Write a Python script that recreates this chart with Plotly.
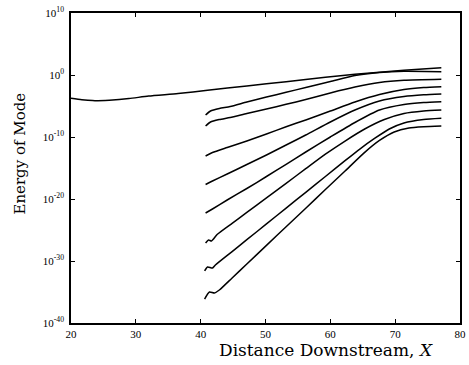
import plotly.graph_objects as go

# ---- data (x = distance downstream, values = log10 of mode energy) ----
x_main = [20, 21.67, 23.33, 25.91, 28.94, 31.97, 36.52, 41.06, 47.12, 53.18, 59.24, 63.79, 71.36, 77.12]
log_main = [-3.76, -4.0, -4.13, -4.06, -3.81, -3.39, -3.0, -2.47, -1.77, -1.08, -0.37, 0.13, 0.77, 1.18]

x_m12 = [40.76, 41.52, 42.88, 44.55, 47.12, 50.15, 53.18, 56.21, 60.0, 63.79, 67.58, 71.36, 77.12]
log_m1 = [-6.45, -5.81, -5.40, -5.08, -4.35, -3.55, -2.79, -2.02, -1.05, -0.08, 0.40, 0.60, 0.53]
log_m2 = [-8.23, -7.58, -7.18, -6.85, -6.21, -5.48, -4.73, -3.95, -2.90, -1.94, -1.21, -0.85, -0.69]

x_m345 = [40.76, 41.82, 44.09, 47.12, 50.15, 53.18, 56.21, 60.0, 63.79, 67.58, 71.36, 74.39, 77.12]
log_m3 = [-13.06, -12.5, -11.69, -10.65, -9.52, -8.34, -7.26, -5.81, -4.35, -3.15, -2.34, -2.02, -1.89]
log_m4 = [-17.66, -17.1, -15.97, -14.44, -12.9, -11.29, -9.68, -7.58, -5.65, -4.19, -3.47, -3.19, -3.06]
log_m5 = [-22.26, -21.61, -20.16, -18.31, -16.37, -14.4, -12.42, -10.0, -7.66, -5.65, -4.76, -4.44, -4.31]

x_m6 = [40.76, 41.21, 41.67, 42.58, 44.85, 47.12, 50.15, 53.18, 56.21, 59.24, 62.27, 65.30, 68.33, 71.36, 74.39, 77.12]
log_m6 = [-27.1, -26.61, -26.77, -25.69, -23.92, -22.16, -19.82, -17.47, -15.11, -12.77, -10.65, -8.71, -7.18, -6.21, -5.81, -5.65]

x_m7 = [40.61, 41.06, 41.82, 42.27, 44.85, 47.12, 50.15, 53.18, 56.21, 59.24, 62.27, 64.55, 66.82, 69.09, 71.36, 74.39, 77.12]
log_m7 = [-31.61, -30.97, -31.13, -30.65, -28.48, -26.56, -24.02, -21.47, -18.92, -16.37, -13.82, -11.94, -10.24, -8.71, -7.74, -7.18, -6.98]

x_m8 = [40.61, 41.36, 42.12, 42.88, 44.85, 47.12, 50.15, 53.18, 56.21, 59.24, 62.27, 65.30, 67.58, 69.85, 72.12, 74.39, 77.12]
log_m8 = [-36.13, -35.0, -35.16, -34.68, -32.73, -30.48, -27.48, -24.48, -21.48, -18.48, -15.48, -12.48, -10.56, -9.19, -8.55, -8.35, -8.23]

x_ticks = [20, 30, 40, 50, 60, 70, 80]
y_exponents = [10, 0, -10, -20, -30, -40]

curves = [
    (x_main, log_main), (x_m12, log_m1), (x_m12, log_m2),
    (x_m345, log_m3), (x_m345, log_m4), (x_m345, log_m5),
    (x_m6, log_m6), (x_m7, log_m7), (x_m8, log_m8),
]

fig = go.Figure()
for xs, ls in curves:
    fig.add_trace(go.Scatter(
        x=xs, y=[10.0 ** v for v in ls], mode="lines",
        line=dict(color="black", width=1.5, shape="spline", smoothing=0.6),
        showlegend=False, hoverinfo="skip"))

serif = "Liberation Serif, Times New Roman, serif"
title_font = "DejaVu Serif, serif"
axis_common = dict(
    showline=True, linecolor="black", linewidth=1.5, mirror="ticks",
    ticks="inside", ticklen=4, tickwidth=1, tickcolor="black",
    showgrid=False, zeroline=False,
    tickfont=dict(family=serif, size=11, color="black"),
)

fig.update_layout(
    width=469, height=365,
    margin=dict(l=71, r=3, t=13, b=42),
    paper_bgcolor="white", plot_bgcolor="white",
    xaxis=dict(range=[20, 80], tickvals=x_ticks, ticktext=[str(v) for v in x_ticks],
               ticklabeloverflow="allow", **axis_common),
    yaxis=dict(type="log", range=[-40, 10],
               tickvals=[10.0 ** e for e in y_exponents],
               ticktext=["10<sup>%d</sup>" % e for e in y_exponents],
               ticklabelstandoff=3,
               **axis_common),
    annotations=[
        dict(text="Distance Downstream, <i>X</i>", xref="paper", yref="paper",
             x=0.655, y=-0.087, xanchor="center", yanchor="middle", showarrow=False,
             font=dict(family=title_font, size=17, color="black")),
        dict(text="Energy of Mode", xref="paper", yref="paper",
             x=-0.13, y=0.548, xanchor="center", yanchor="middle", showarrow=False,
             textangle=-90, font=dict(family=title_font, size=15, color="black")),
    ],
)

fig.write_html("out.html")
